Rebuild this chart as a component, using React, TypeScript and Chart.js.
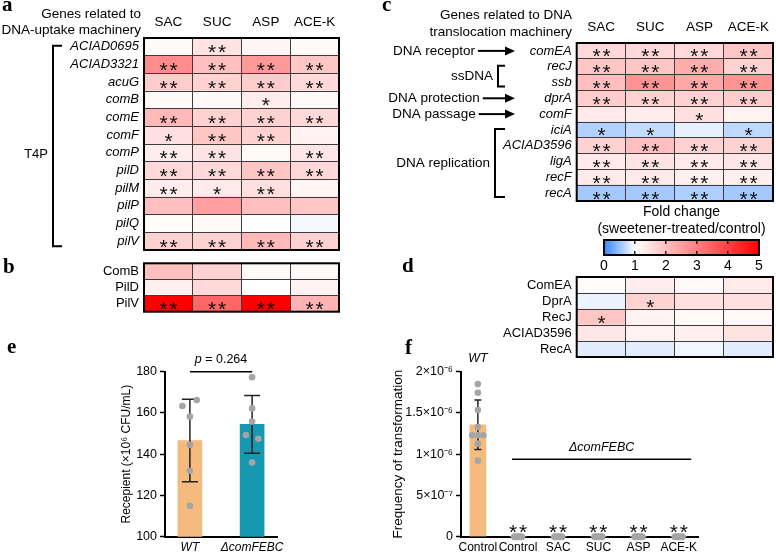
import React, { useEffect, useRef } from 'react';
import { Chart, registerables } from 'chart.js';
Chart.register(...registerables);

const SANS = "'Liberation Sans', Arial, sans-serif";
const SERIF = "'Liberation Serif', 'Times New Roman', serif";

// ---------- data ----------
const sweeteners = ['SAC', 'SUC', 'ASP', 'ACE-K'];

const uptakeTitle = ['Genes related to', 'DNA-uptake machinery'];
const uptakeGenes = ['ACIAD0695', 'ACIAD3321', 'acuG', 'comB', 'comE', 'comF', 'comP', 'pilD', 'pilM', 'pilP', 'pilQ', 'pilV'];
const uptakeFold = [
  [1.1, 1.45, 1.15, 1.1],
  [2.8, 2.0, 2.6, 1.9],
  [1.8, 1.7, 1.8, 1.6],
  [1.1, 1.1, 1.3, 1.1],
  [2.1, 1.7, 1.7, 1.6],
  [1.5, 1.9, 1.7, 1.2],
  [1.3, 1.45, 1.1, 1.4],
  [1.6, 1.6, 1.9, 1.6],
  [1.3, 1.35, 1.5, 1.15],
  [2.0, 2.5, 2.0, 1.9],
  [1.05, 1.1, 1.0, 0.95],
  [1.7, 1.7, 2.1, 1.7],
];
const uptakeStars = [
  [0, 2, 0, 0],
  [2, 2, 2, 2],
  [2, 2, 2, 2],
  [0, 0, 1, 0],
  [2, 2, 2, 2],
  [1, 2, 2, 0],
  [2, 2, 0, 2],
  [2, 2, 2, 2],
  [2, 1, 2, 0],
  [0, 0, 0, 0],
  [0, 0, 0, 0],
  [2, 2, 2, 2],
];
const uptakeGroup = 'T4P';

const uptakeProteins = ['ComB', 'PilD', 'PilV'];
const uptakeProteinFold = [
  [2.0, 1.7, 1.1, 1.1],
  [1.25, 1.6, 1.0, 1.2],
  [5.0, 3.4, 5.0, 2.2],
];
const uptakeProteinStars = [
  [0, 0, 0, 0],
  [0, 0, 0, 0],
  [2, 2, 2, 2],
];

const translocTitle = ['Genes related to DNA', 'translocation machinery'];
const translocGenes = ['comEA', 'recJ', 'ssb', 'dprA', 'comF', 'iciA', 'ACIAD3596', 'ligA', 'recF', 'recA'];
const translocFold = [
  [1.6, 1.6, 1.6, 1.9],
  [1.9, 1.9, 2.3, 1.7],
  [2.0, 2.7, 2.4, 2.7],
  [1.8, 1.7, 1.7, 1.8],
  [1.35, 1.3, 1.5, 1.2],
  [0.62, 0.7, 0.88, 0.68],
  [1.7, 2.0, 1.7, 1.7],
  [1.35, 1.45, 1.35, 1.4],
  [1.35, 1.35, 1.25, 1.25],
  [0.55, 0.55, 0.6, 0.55],
];
const translocStars = [
  [2, 2, 2, 2],
  [2, 2, 2, 2],
  [2, 2, 2, 2],
  [2, 2, 2, 2],
  [0, 0, 1, 0],
  [1, 1, 0, 1],
  [2, 2, 2, 2],
  [2, 2, 2, 2],
  [2, 2, 2, 2],
  [2, 2, 2, 2],
];
const roleArrows = [['DNA receptor', 'comEA'], ['DNA protection', 'dprA'], ['DNA passage', 'comF']];
const roleBrackets = [['ssDNA', 'recJ', 'ssb'], ['DNA replication', 'iciA', 'recA']];

const translocProteins = ['ComEA', 'DprA', 'RecJ', 'ACIAD3596', 'RecA'];
const translocProteinFold = [
  [1.05, 1.3, 1.1, 1.35],
  [0.9, 1.7, 1.5, 1.5],
  [1.9, 1.2, 1.1, 1.1],
  [1.4, 1.2, 1.25, 1.45],
  [0.85, 0.85, 0.93, 0.85],
];
const translocProteinStars = [
  [0, 0, 0, 0],
  [0, 1, 0, 0],
  [1, 0, 0, 0],
  [0, 0, 0, 0],
  [0, 0, 0, 0],
];

const colorbarTitle = ['Fold change', '(sweetener-treated/control)'];
const colorbarTicks = [0, 1, 2, 3, 4, 5];

// e
const recipientGroups = ['WT', 'ΔcomFEBC'];
const recipientMean = [146.6, 154.5];
const recipientSD = [20, 14];
const recipientWT = [163.4, 166.3, 158.2, 144.5, 132, 115];
const recipientWTJitter = [-0.12, 0.11, 0, 0, 0, 0];
const recipientKO = [177.3, 162.2, 155.8, 149.3, 147.5, 136];
const recipientKOJitter = [0, 0, 0, -0.1, 0.1, 0];
const recipientTicks = [100, 120, 140, 160, 180];
const recipientTitle = 'Recepient (×10⁶ CFU/mL)';
const pLineSpan = [0, 1];
const pLineLevel = 180;
const pValue = '0.264';

// f
const transfGroups = ['Control', 'Control', 'SAC', 'SUC', 'ASP', 'ACE-K'];
const transfMean = [1.356e-6, 0, 0, 0, 0, 0];
const transfSD = [0.3e-6, 0, 0, 0, 0, 0];
const transfWT = [1.85e-6, 1.745e-6, 1.535e-6, 1.33e-6, 1.23e-6, 1.23e-6, 1.23e-6, 1.13e-6, 0.92e-6];
const transfWTJitter = [0, 0, 0, 0, -0.14, 0, 0.14, 0, 0];
const transfKO = [0, 0, 0, 0, 0];
const transfKOJitter = [-0.09, -0.045, 0, 0.045, 0.09];
const transfStars = [0, 2, 2, 2, 2, 2];
const transfTicks = [0, 5e-7, 1e-6, 1.5e-6, 2e-6];
const transfTickLabels = ['0', '5×10⁻⁷', '1×10⁻⁶', '1.5×10⁻⁶', '2×10⁻⁶'];
const transfTitle = 'Frequency of transformation';
const koLineSpan = [0.85, 5.31];
const koLineLevel = 0.94e-6;
const koLabel = 'ΔcomFEBC';

// ---------- helpers ----------
const BLUE = [52, 134, 255];
const WHITE = [255, 255, 255];
const RED = [255, 0, 0];
function foldColor(v: number) {
  const lerp = (a: number[], b: number[], t: number) => a.map((x, i) => Math.round(x + (b[i] - x) * t));
  const c = v <= 1 ? lerp(BLUE, WHITE, Math.max(0, v)) : lerp(WHITE, RED, Math.min(1, (v - 1) / 4));
  return `rgb(${c.join(',')})`;
}

function fitAxis(dim: 'width' | 'height', size: number) {
  return (s: any) => {
    s[dim] = size;
    s.paddingTop = 0; s.paddingBottom = 0; s.paddingLeft = 0; s.paddingRight = 0;
  };
}

function text(ctx: CanvasRenderingContext2D, s: string, x: number, y: number, o: any = {}) {
  ctx.save();
  ctx.font = `${o.style || 'normal'} ${o.weight || 'normal'} ${o.size || 13}px ${o.family || SANS}`;
  ctx.fillStyle = o.color || '#000';
  ctx.textAlign = o.align || 'left';
  ctx.textBaseline = o.baseline || 'middle';
  ctx.fillText(s, x, y);
  const w = ctx.measureText(s).width;
  ctx.restore();
  return w;
}

function drawStars(ctx: CanvasRenderingContext2D, cx: number, cy: number, n: number) {
  ctx.save();
  ctx.fillStyle = '#111';
  ctx.font = `21px ${SANS}`;
  ctx.textAlign = 'center';
  ctx.textBaseline = 'alphabetic';
  for (let k = 0; k < n; k++) {
    const x = cx + (k - (n - 1) / 2) * 10;
    ctx.fillText('*', x, cy + 12.5);
  }
  ctx.restore();
}

function arrow(ctx: CanvasRenderingContext2D, x1: number, x2: number, y: number) {
  ctx.save();
  ctx.strokeStyle = '#000';
  ctx.fillStyle = '#000';
  ctx.lineWidth = 2;
  ctx.beginPath(); ctx.moveTo(x1, y); ctx.lineTo(x2 - 6, y); ctx.stroke();
  ctx.beginPath(); ctx.moveTo(x2, y); ctx.lineTo(x2 - 10, y - 4.5); ctx.lineTo(x2 - 10, y + 4.5); ctx.closePath(); ctx.fill();
  ctx.restore();
}

function bracket(ctx: CanvasRenderingContext2D, x: number, y1: number, y2: number, tick: number) {
  ctx.save();
  ctx.strokeStyle = '#000';
  ctx.lineWidth = 2;
  ctx.beginPath(); ctx.moveTo(x + tick, y1); ctx.lineTo(x, y1); ctx.lineTo(x, y2); ctx.lineTo(x + tick, y2); ctx.stroke();
  ctx.restore();
}

function panelLetter(ctx: CanvasRenderingContext2D, s: string, x: number, y: number) {
  text(ctx, s, x, y, { size: 21, weight: 'bold', family: SERIF, baseline: 'alphabetic' });
}

type Box = [number, number, number, number];
type Area = { l: number; t: number; r: number; b: number };

function Heatmap(props: { box: Box; area: Area; rows: string[]; values: number[][]; stars: number[][]; italic: boolean; decorate: (chart: any, ctx: CanvasRenderingContext2D) => void }) {
  const ref = useRef<HTMLCanvasElement>(null);
  const { box, area, rows, values, stars, italic, decorate } = props;
  const [L, T, W, H] = box;
  useEffect(() => {
    const chart = new Chart(ref.current as HTMLCanvasElement, {
      type: 'bar',
      data: {
        labels: rows,
        datasets: sweeteners.map((s, j) => ({
          label: s,
          data: rows.map(() => 1),
          backgroundColor: rows.map((_, i) => foldColor(values[i][j])),
          borderWidth: 0,
          barPercentage: 1,
          categoryPercentage: 1,
        })),
      },
      options: {
        indexAxis: 'y',
        responsive: false,
        animation: false,
        events: [],
        layout: { padding: { left: 0, top: area.t, right: W - area.r, bottom: H - area.b } },
        plugins: { legend: { display: false }, tooltip: { enabled: false } },
        scales: {
          x: {
            type: 'linear', stacked: true, min: 0, max: sweeteners.length, offset: false,
            ticks: { display: false, stepSize: 1 },
            grid: { color: '#3c3c3c', lineWidth: 1, drawTicks: false, z: 1 } as any,
            border: { display: false },
            afterFit: fitAxis('height', 0),
          },
          y: {
            stacked: true,
            ticks: { color: '#000', autoSkip: false, padding: 5, font: { family: SANS, size: 13, style: italic ? 'italic' : 'normal' } },
            grid: { color: '#3c3c3c', lineWidth: 1, drawTicks: false, z: 1 } as any,
            border: { display: false },
            afterFit: fitAxis('width', area.l),
          },
        },
      } as any,
      plugins: [{
        id: 'heat',
        afterDraw(ch: any) {
          const ctx = ch.ctx as CanvasRenderingContext2D;
          const ca = ch.chartArea;
          sweeteners.forEach((_, j) => {
            const meta = ch.getDatasetMeta(j);
            meta.data.forEach((el: any, i: number) => {
              const n = stars[i][j];
              if (n) drawStars(ctx, (el.x + el.base) / 2, el.y, n);
            });
          });
          ctx.save();
          ctx.strokeStyle = '#000';
          ctx.lineWidth = 2;
          ctx.strokeRect(ca.left, ca.top, ca.right - ca.left, ca.bottom - ca.top);
          ctx.restore();
          decorate(ch, ctx);
        },
      }],
    });
    return () => chart.destroy();
  }, []);
  return <canvas ref={ref} width={W} height={H} style={{ position: 'absolute', left: L, top: T, width: W, height: H }} />;
}

function Colorbar() {
  const ref = useRef<HTMLCanvasElement>(null);
  const [L, T, W, H] = [580, 200, 196, 75];
  useEffect(() => {
    const lo = colorbarTicks[0];
    const hi = colorbarTicks[colorbarTicks.length - 1];
    const chart = new Chart(ref.current as HTMLCanvasElement, {
      type: 'bar',
      data: {
        labels: ['fold'],
        datasets: [{
          data: [[lo, hi]],
          backgroundColor: (c: any) => {
            const ch = c.chart;
            if (!ch.chartArea) return '#fff';
            const xs = ch.scales.x;
            const g = ch.ctx.createLinearGradient(xs.getPixelForValue(lo), 0, xs.getPixelForValue(hi), 0);
            colorbarTicks.forEach((v) => g.addColorStop((v - lo) / (hi - lo), foldColor(v)));
            return g;
          },
          borderWidth: 0,
          barPercentage: 1,
          categoryPercentage: 1,
        }],
      },
      options: {
        indexAxis: 'y',
        responsive: false,
        animation: false,
        events: [],
        layout: { padding: { left: 24, top: 40, right: 17, bottom: 0 } },
        plugins: { legend: { display: false }, tooltip: { enabled: false } },
        scales: {
          x: {
            type: 'linear', min: lo, max: hi, offset: false,
            afterBuildTicks: (s: any) => { s.ticks = colorbarTicks.map((v) => ({ value: v })); },
            ticks: { color: '#000', padding: 3, font: { family: SANS, size: 14 } },
            grid: { color: '#222', lineWidth: 1.5, drawTicks: false, z: 1 } as any,
            border: { display: false, dash: [4, 7] },
            afterFit: fitAxis('height', 20),
          },
          y: { display: false },
        },
      } as any,
      plugins: [{
        id: 'cbar',
        afterDraw(ch: any) {
          const ctx = ch.ctx as CanvasRenderingContext2D;
          const ca = ch.chartArea;
          ctx.save();
          ctx.strokeStyle = '#000';
          ctx.lineWidth = 2;
          ctx.strokeRect(ca.left, ca.top, ca.right - ca.left, ca.bottom - ca.top);
          ctx.restore();
          const cx = (ca.left + ca.right) / 2;
          text(ctx, colorbarTitle[0], cx, ca.top - 28, { align: 'center', size: 14 });
          text(ctx, colorbarTitle[1], cx, ca.top - 11, { align: 'center', size: 14 });
        },
      }],
    });
    return () => chart.destroy();
  }, []);
  return <canvas ref={ref} width={W} height={H} style={{ position: 'absolute', left: L, top: T, width: W, height: H }} />;
}

function errorBars(ch: any, means: number[], sds: number[], capHalf: number) {
  const ctx = ch.ctx as CanvasRenderingContext2D;
  const xs = ch.scales.x, ys = ch.scales.y;
  ctx.save();
  ctx.strokeStyle = '#222';
  ctx.lineWidth = 1.5;
  means.forEach((m, i) => {
    if (!sds[i]) return;
    const x = xs.getPixelForValue(i);
    const yt = ys.getPixelForValue(m + sds[i]);
    const yb = ys.getPixelForValue(m - sds[i]);
    ctx.beginPath();
    ctx.moveTo(x, yt); ctx.lineTo(x, yb);
    ctx.moveTo(x - capHalf, yt); ctx.lineTo(x + capHalf, yt);
    ctx.moveTo(x - capHalf, yb); ctx.lineTo(x + capHalf, yb);
    ctx.stroke();
  });
  ctx.restore();
}

const ORANGE = 'rgb(245,186,126)';
const TEAL = 'rgb(22,152,177)';
const POINT = 'rgb(165,165,165)';

function RecipientChart() {
  const ref = useRef<HTMLCanvasElement>(null);
  const [L, T, W, H] = [0, 330, 380, 226];
  useEffect(() => {
    const area = { l: 165, r: 277, t: 41.7, b: 206.7 };
    const padL = 115;
    const chart = new Chart(ref.current as HTMLCanvasElement, {
      type: 'bar',
      data: {
        datasets: [
          { type: 'bar', data: recipientGroups.map((g, i) => ({ x: i, y: recipientMean[i] })), backgroundColor: [ORANGE, TEAL], barThickness: 24, order: 3 } as any,
          { type: 'scatter', data: recipientWT.map((v, k) => ({ x: 0 + recipientWTJitter[k], y: v })), backgroundColor: POINT, pointRadius: 3.3, borderWidth: 0, order: 1 },
          { type: 'scatter', data: recipientKO.map((v, k) => ({ x: 1 + recipientKOJitter[k], y: v })), backgroundColor: POINT, pointRadius: 3.3, borderWidth: 0, order: 1 },
          { type: 'line', data: pLineSpan.map((x) => ({ x, y: pLineLevel })), borderColor: '#000', borderWidth: 1.5, pointRadius: 0, clip: false, order: 0 } as any,
        ],
      },
      options: {
        responsive: false,
        animation: false,
        events: [],
        layout: { padding: { left: padL, top: area.t, right: W - area.r, bottom: 0 } },
        plugins: { legend: { display: false }, tooltip: { enabled: false } },
        scales: {
          x: {
            type: 'linear', min: -0.4, max: 1.4, offset: false,
            afterBuildTicks: (s: any) => { s.ticks = recipientGroups.map((_, i) => ({ value: i })); },
            ticks: { color: '#000', padding: 4, callback: (v: any) => recipientGroups[v], font: { family: SANS, size: 12, style: 'italic' } },
            grid: { display: false, drawTicks: false },
            border: { color: '#000', width: 2 },
            afterFit: fitAxis('height', H - area.b),
          },
          y: {
            type: 'linear', min: recipientTicks[0], max: recipientTicks[recipientTicks.length - 1],
            afterBuildTicks: (s: any) => { s.ticks = recipientTicks.map((v) => ({ value: v })); },
            ticks: { color: '#000', padding: 3, font: { family: SANS, size: 12.5 } },
            grid: { drawOnChartArea: false, drawTicks: true, tickLength: 5, tickColor: '#000', tickWidth: 1.5 },
            border: { color: '#000', width: 2 },
            title: { display: true, text: recipientTitle, color: '#000', font: { family: SANS, size: 12 } },
            afterFit: fitAxis('width', area.l - padL),
          },
        },
      } as any,
      plugins: [{
        id: 'e',
        afterDatasetDraw(ch: any, args: any) {
          if (args.index === 0) errorBars(ch, recipientMean, recipientSD, 8);
        },
        afterDraw(ch: any) {
          const ctx = ch.ctx as CanvasRenderingContext2D;
          const xs = ch.scales.x, ys = ch.scales.y;
          panelLetter(ctx, 'e', 7, 23);
          const cx = xs.getPixelForValue((pLineSpan[0] + pLineSpan[1]) / 2);
          const y = ys.getPixelForValue(pLineLevel) - 12;
          ctx.save();
          ctx.font = `12.5px ${SANS}`;
          const rest = ' = ' + pValue;
          const wRest = ctx.measureText(rest).width;
          ctx.font = `italic 12.5px ${SANS}`;
          const wP = ctx.measureText('p').width;
          ctx.restore();
          const x0 = cx - (wP + wRest) / 2;
          text(ctx, 'p', x0, y, { size: 12.5, style: 'italic' });
          text(ctx, rest, x0 + wP, y, { size: 12.5 });
        },
      }],
    });
    return () => chart.destroy();
  }, []);
  return <canvas ref={ref} width={W} height={H} style={{ position: 'absolute', left: L, top: T, width: W, height: H }} />;
}

function TransformationChart() {
  const ref = useRef<HTMLCanvasElement>(null);
  const [L, T, W, H] = [380, 330, 396, 226];
  useEffect(() => {
    const area = { l: 81, r: 318, t: 41.7, b: 206.7 };
    const padL = 6;
    const koPoints: { x: number; y: number }[] = [];
    transfGroups.forEach((g, i) => {
      if (i === 0) return;
      transfKO.forEach((v, k) => koPoints.push({ x: i + transfKOJitter[k], y: v }));
    });
    const chart = new Chart(ref.current as HTMLCanvasElement, {
      type: 'bar',
      data: {
        datasets: [
          { type: 'bar', data: transfGroups.map((g, i) => ({ x: i, y: transfMean[i] })), backgroundColor: ORANGE, barThickness: 16, order: 3 } as any,
          { type: 'scatter', data: transfWT.map((v, k) => ({ x: 0 + transfWTJitter[k], y: v })), backgroundColor: POINT, pointRadius: 3.3, borderWidth: 0, order: 1 },
          { type: 'scatter', data: koPoints, backgroundColor: POINT, pointRadius: 3.5, borderWidth: 0, clip: false, order: 1 } as any,
          { type: 'line', data: koLineSpan.map((x) => ({ x, y: koLineLevel })), borderColor: '#000', borderWidth: 1.5, pointRadius: 0, order: 0 },
        ],
      },
      options: {
        responsive: false,
        animation: false,
        events: [],
        layout: { padding: { left: padL, top: area.t, right: W - area.r, bottom: 0 } },
        plugins: { legend: { display: false }, tooltip: { enabled: false } },
        scales: {
          x: {
            type: 'linear', min: -0.42, max: transfGroups.length - 0.52, offset: false,
            afterBuildTicks: (s: any) => { s.ticks = transfGroups.map((_, i) => ({ value: i })); },
            ticks: { color: '#000', padding: 4, autoSkip: false, maxRotation: 0, callback: (v: any) => transfGroups[v], font: { family: SANS, size: 12 } },
            grid: { display: false, drawTicks: false },
            border: { color: '#000', width: 2 },
            afterFit: fitAxis('height', H - area.b),
          },
          y: {
            type: 'linear', min: transfTicks[0], max: transfTicks[transfTicks.length - 1],
            afterBuildTicks: (s: any) => { s.ticks = transfTicks.map((v) => ({ value: v })); },
            ticks: { color: '#000', padding: 3, font: { family: SANS, size: 12.5 }, callback: (v: any) => transfTickLabels[transfTicks.indexOf(v)] },
            grid: { drawOnChartArea: false, drawTicks: true, tickLength: 5, tickColor: '#000', tickWidth: 1.5 },
            border: { color: '#000', width: 2 },
            title: { display: true, text: transfTitle, color: '#000', font: { family: SANS, size: 13.5 } },
            afterFit: fitAxis('width', area.l - padL),
          },
        },
      } as any,
      plugins: [{
        id: 'f',
        afterDatasetDraw(ch: any, args: any) {
          if (args.index === 0) errorBars(ch, transfMean, transfSD, 3.5);
        },
        afterDraw(ch: any) {
          const ctx = ch.ctx as CanvasRenderingContext2D;
          const xs = ch.scales.x, ys = ch.scales.y;
          panelLetter(ctx, 'f', 25, 24);
          text(ctx, 'WT', xs.getPixelForValue(0), ch.chartArea.top - 13, { align: 'center', size: 12.5, style: 'italic' });
          const y0 = ys.getPixelForValue(0);
          transfStars.forEach((n, i) => { if (n) drawStars(ctx, xs.getPixelForValue(i), y0 - 10, n); });
          text(ctx, koLabel, xs.getPixelForValue((koLineSpan[0] + koLineSpan[1]) / 2), ys.getPixelForValue(koLineLevel) - 12, { align: 'center', size: 12.5, style: 'italic' });
        },
      }],
    });
    return () => chart.destroy();
  }, []);
  return <canvas ref={ref} width={W} height={H} style={{ position: 'absolute', left: L, top: T, width: W, height: H }} />;
}

export default function App() {
  const decorateA = (ch: any, ctx: CanvasRenderingContext2D) => {
    const xs = ch.scales.x, ys = ch.scales.y;
    panelLetter(ctx, 'a', 2, 11);
    text(ctx, uptakeTitle[0], 141, 14, { align: 'right', size: 13.5 });
    text(ctx, uptakeTitle[1], 141, 30, { align: 'right', size: 13.5 });
    sweeteners.forEach((s, j) => text(ctx, s, xs.getPixelForValue(j + 0.5), 22, { align: 'center', size: 13.5 }));
    const y0 = ys.getPixelForValue(0);
    const y1 = ys.getPixelForValue(uptakeGenes.length - 1);
    bracket(ctx, 53, y0 - 1, y1 + 5, 9);
    text(ctx, uptakeGroup, 48, ys.getPixelForValue(6) + 2, { align: 'right', size: 13 });
  };
  const decorateB = (ch: any, ctx: CanvasRenderingContext2D) => {
    panelLetter(ctx, 'b', 3, 17);
  };
  const decorateC = (ch: any, ctx: CanvasRenderingContext2D) => {
    const xs = ch.scales.x, ys = ch.scales.y;
    panelLetter(ctx, 'c', 2, 11);
    text(ctx, translocTitle[0], 192, 15, { align: 'right', size: 13.5 });
    text(ctx, translocTitle[1], 192, 32, { align: 'right', size: 13.5 });
    sweeteners.forEach((s, j) => text(ctx, s, xs.getPixelForValue(j + 0.5), 27, { align: 'center', size: 13.5 }));
    roleArrows.forEach(([label, gene]) => {
      const y = ys.getPixelForValue(translocGenes.indexOf(gene));
      const w = text(ctx, label, 54, y, { align: 'center', size: 13.5 });
      arrow(ctx, 54 + w / 2 + 3, 135, y);
    });
    const bx = [118, 115];
    const bt = [7, 10];
    roleBrackets.forEach(([label, g1, g2], k) => {
      const y1 = ys.getPixelForValue(translocGenes.indexOf(g1)) - 1;
      const y2 = ys.getPixelForValue(translocGenes.indexOf(g2)) + 4;
      bracket(ctx, bx[k], y1, y2, bt[k]);
      text(ctx, label, bx[k] - 5, (y1 + y2) / 2, { align: 'right', size: 13.5 });
    });
  };
  const decorateD = (ch: any, ctx: CanvasRenderingContext2D) => {
    panelLetter(ctx, 'd', 22, 14);
  };
  return (
    <div style={{ position: 'absolute', left: 0, top: 0, width: 776, height: 556, background: '#fff', overflow: 'hidden' }}>
      <Heatmap box={[0, 0, 380, 256]} area={{ l: 144, t: 38, r: 339, b: 250 }} rows={uptakeGenes} values={uptakeFold} stars={uptakeStars} italic={true} decorate={decorateA} />
      <Heatmap box={[0, 256, 380, 64]} area={{ l: 144, t: 7.3, r: 339, b: 55.7 }} rows={uptakeProteins} values={uptakeProteinFold} stars={uptakeProteinStars} italic={false} decorate={decorateB} />
      <Heatmap box={[380, 0, 396, 205]} area={{ l: 196.7, t: 43, r: 393, b: 201 }} rows={translocGenes} values={translocFold} stars={translocStars} italic={true} decorate={decorateC} />
      <Heatmap box={[380, 258, 396, 104]} area={{ l: 196.7, t: 19, r: 393, b: 99 }} rows={translocProteins} values={translocProteinFold} stars={translocProteinStars} italic={false} decorate={decorateD} />
      <Colorbar />
      <RecipientChart />
      <TransformationChart />
    </div>
  );
}
